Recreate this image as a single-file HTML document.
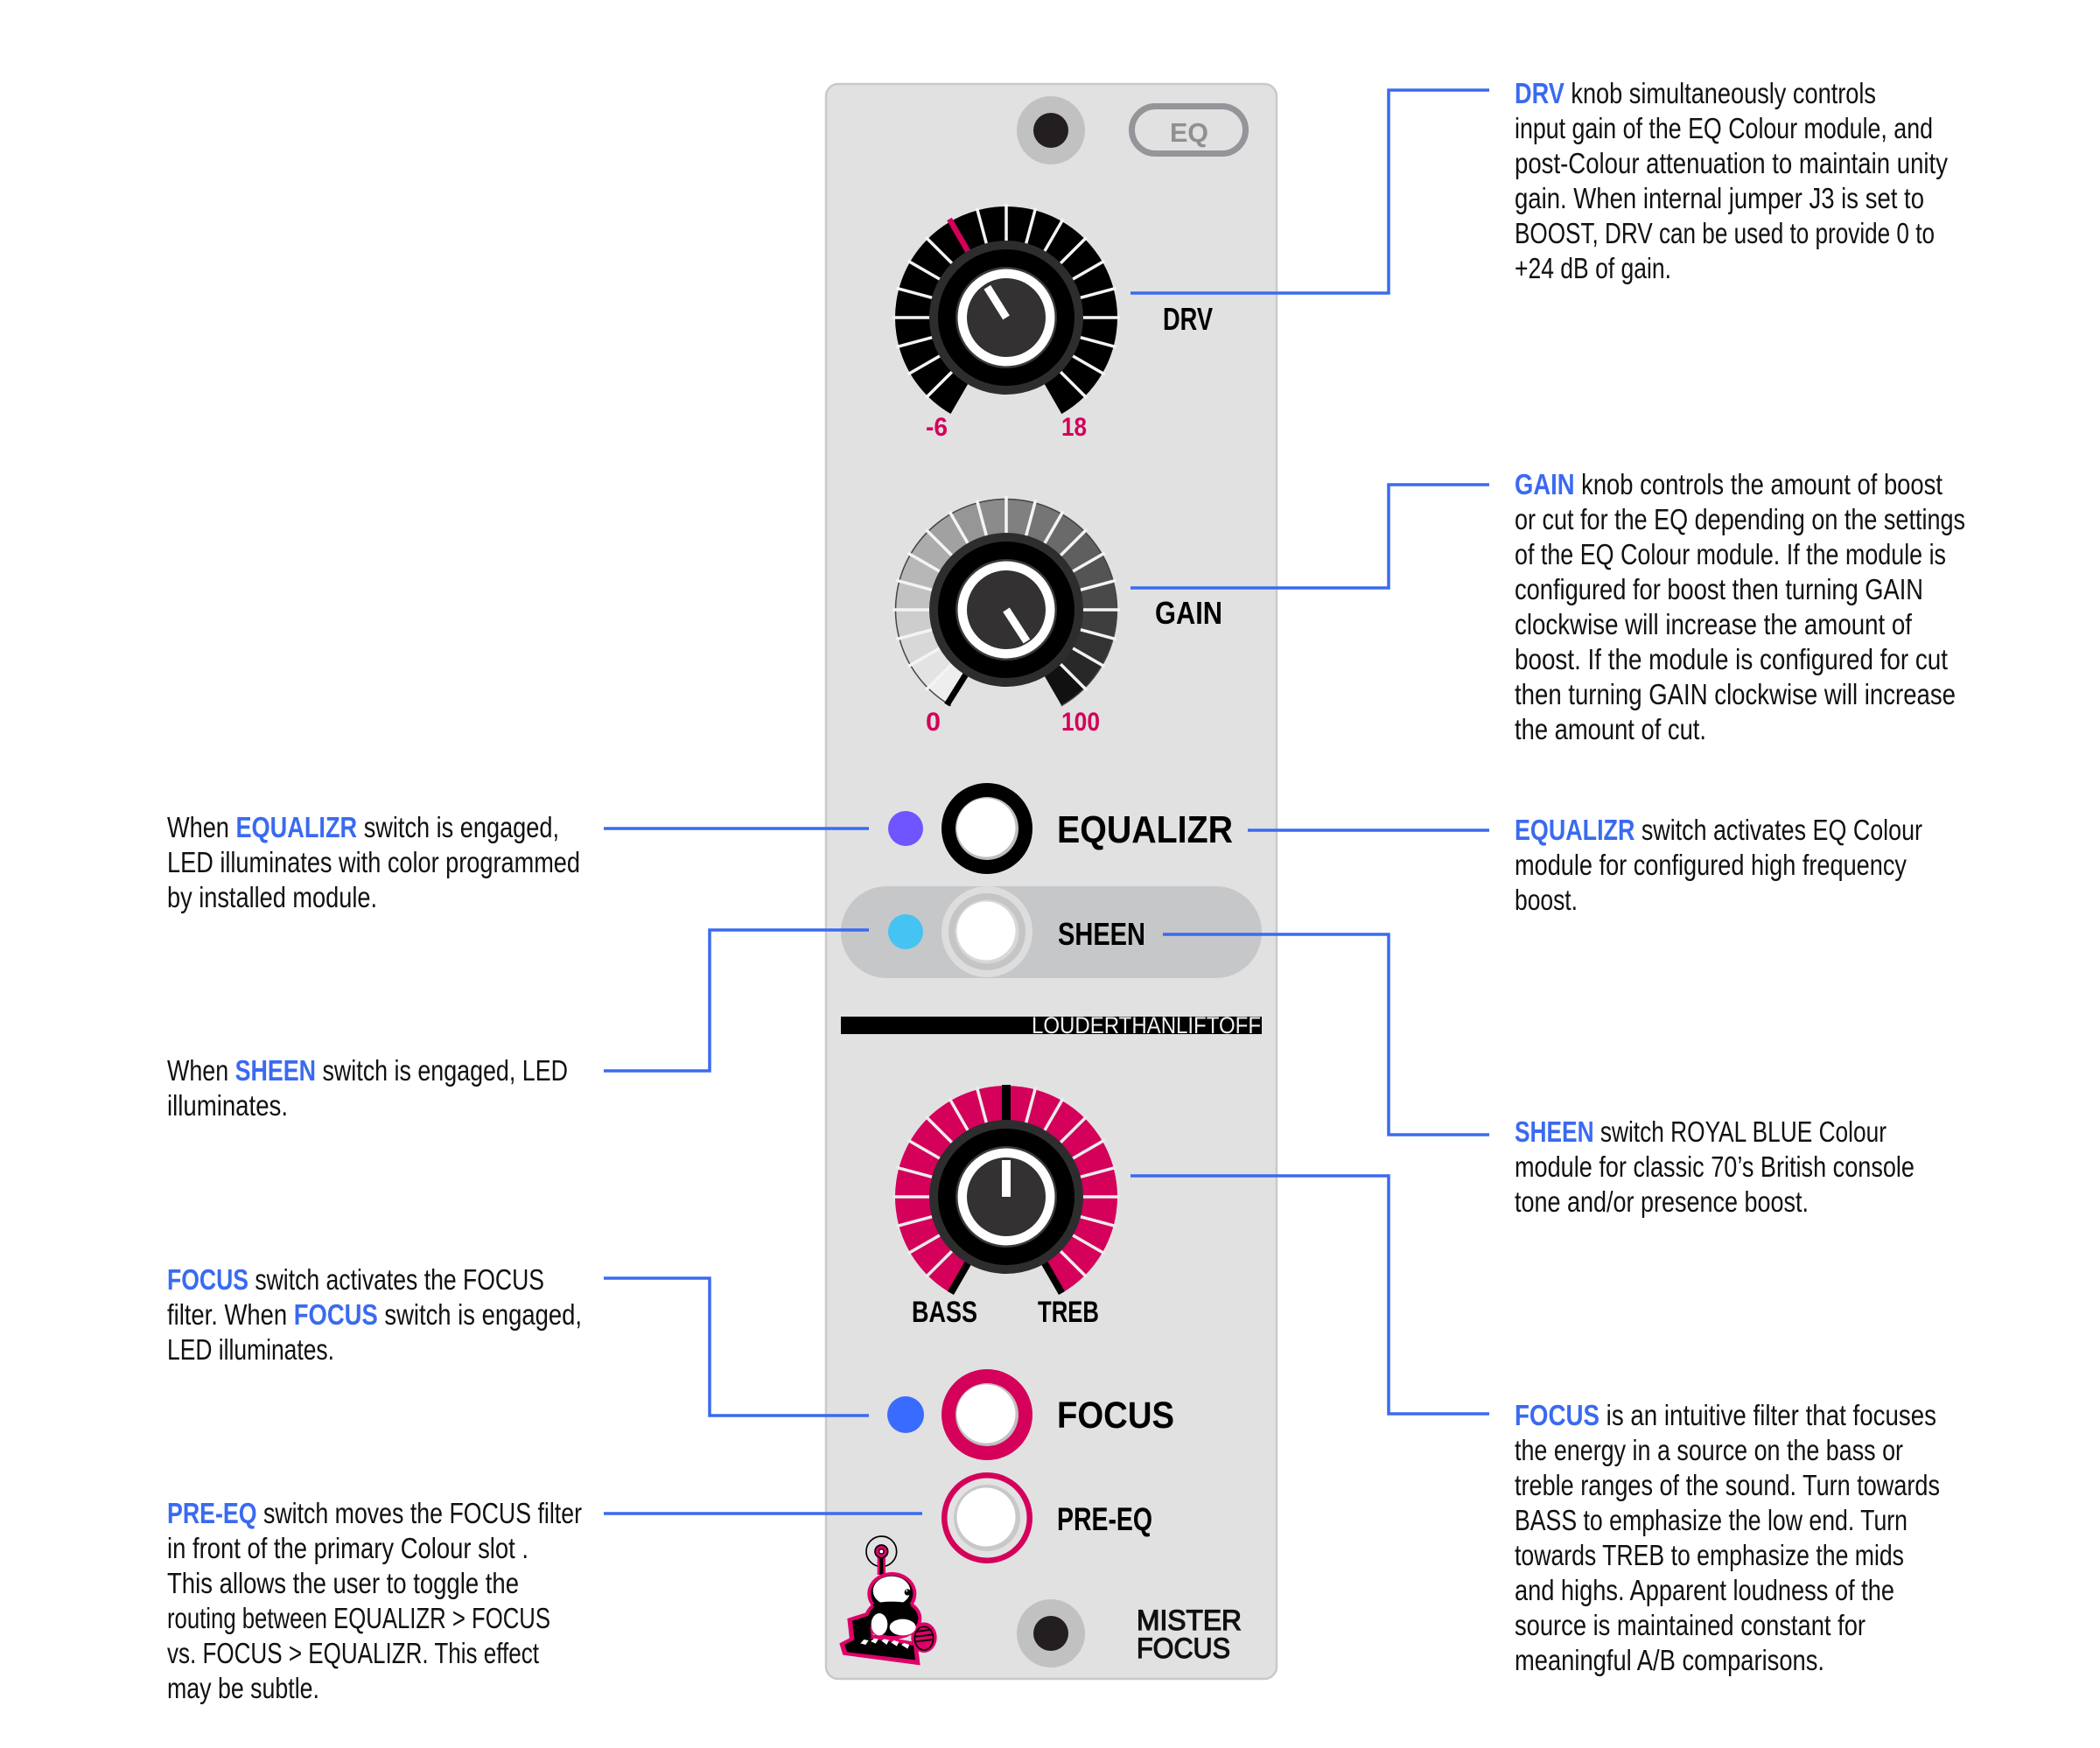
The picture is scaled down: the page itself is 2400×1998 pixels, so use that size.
<!DOCTYPE html>
<html><head><meta charset="utf-8"><style>html,body{margin:0;padding:0;background:#fff}svg{display:block}</style></head>
<body>
<svg width="2400" height="1998" viewBox="0 0 2400 1998" xmlns="http://www.w3.org/2000/svg">
<rect width="2400" height="1998" fill="#fff"/>

<!-- PANEL -->
<rect x="944" y="96" width="515" height="1823" rx="14" fill="#e1e1e1" stroke="#c9c9c9" stroke-width="2.5"/>

<!-- top jack -->
<circle cx="1201" cy="149" r="39" fill="#c1c1c1"/>
<circle cx="1201" cy="149" r="20" fill="#231f20"/>
<!-- EQ badge -->
<rect x="1293.5" y="121.5" width="130" height="54" rx="27" fill="none" stroke="#939598" stroke-width="7"/>
<text x="1337" y="162" font-family="'Liberation Sans',sans-serif" font-weight="bold" font-size="31" fill="#8e9093" textLength="44" lengthAdjust="spacingAndGlyphs">EQ</text>

<!-- DRV KNOB -->
<g transform="translate(1150,363)">
  <circle r="106.5" fill="none" stroke="#000" stroke-width="41" stroke-dasharray="557.6 2000" transform="rotate(120)"/>
  <g stroke="#f4f4f4" stroke-width="3.5">
    <line x1="0" y1="-82" x2="0" y2="-130" transform="rotate(-135)"/>
    <line x1="0" y1="-82" x2="0" y2="-130" transform="rotate(-120)"/>
    <line x1="0" y1="-82" x2="0" y2="-130" transform="rotate(-105)"/>
    <line x1="0" y1="-82" x2="0" y2="-130" transform="rotate(-90)"/>
    <line x1="0" y1="-82" x2="0" y2="-130" transform="rotate(-75)"/>
    <line x1="0" y1="-82" x2="0" y2="-130" transform="rotate(-60)"/>
    <line x1="0" y1="-82" x2="0" y2="-130" transform="rotate(-45)"/>
    <line x1="0" y1="-82" x2="0" y2="-130" transform="rotate(-15)"/>
    <line x1="0" y1="-82" x2="0" y2="-130" transform="rotate(0)"/>
    <line x1="0" y1="-82" x2="0" y2="-130" transform="rotate(15)"/>
    <line x1="0" y1="-82" x2="0" y2="-130" transform="rotate(30)"/>
    <line x1="0" y1="-82" x2="0" y2="-130" transform="rotate(45)"/>
    <line x1="0" y1="-82" x2="0" y2="-130" transform="rotate(60)"/>
    <line x1="0" y1="-82" x2="0" y2="-130" transform="rotate(75)"/>
    <line x1="0" y1="-82" x2="0" y2="-130" transform="rotate(90)"/>
    <line x1="0" y1="-82" x2="0" y2="-130" transform="rotate(105)"/>
    <line x1="0" y1="-82" x2="0" y2="-130" transform="rotate(120)"/>
    <line x1="0" y1="-82" x2="0" y2="-130" transform="rotate(135)"/>
  </g>
  <line x1="0" y1="-82" x2="0" y2="-130" stroke="#d4005a" stroke-width="6.5" transform="rotate(-30)"/>
  <circle r="88" fill="#2e2d2e"/>
  <circle r="78" fill="#000"/>
  <circle r="58" fill="#3a393a"/>
  <circle r="55.5" fill="#fff"/>
  <circle r="45" fill="#333132"/>
  <line x1="0" y1="0" x2="0" y2="-41" stroke="#fff" stroke-width="9" transform="rotate(-32)"/>
</g>
<g font-family="'Liberation Sans Narrow','Liberation Sans',sans-serif" font-weight="bold">
<text x="1058" y="498" font-size="30" fill="#d4005a" textLength="25" lengthAdjust="spacingAndGlyphs">-6</text>
<text x="1213" y="498" font-size="30" fill="#d4005a" textLength="29" lengthAdjust="spacingAndGlyphs">18</text>
<text x="1329" y="377" font-size="36" fill="#000" textLength="57" lengthAdjust="spacingAndGlyphs">DRV</text>
</g>

<!-- GAIN KNOB -->
<g transform="translate(1150,697)">
  <g fill="none" stroke-width="41">
    <circle r="106.5" stroke="#eeeeee" stroke-dasharray="27.88 2000" transform="rotate(120)"/>
    <circle r="106.5" stroke="#e3e3e3" stroke-dasharray="27.88 2000" transform="rotate(135)"/>
    <circle r="106.5" stroke="#d8d8d8" stroke-dasharray="27.88 2000" transform="rotate(150)"/>
    <circle r="106.5" stroke="#cdcdcd" stroke-dasharray="27.88 2000" transform="rotate(165)"/>
    <circle r="106.5" stroke="#c2c2c2" stroke-dasharray="27.88 2000" transform="rotate(180)"/>
    <circle r="106.5" stroke="#b7b7b7" stroke-dasharray="27.88 2000" transform="rotate(195)"/>
    <circle r="106.5" stroke="#acacac" stroke-dasharray="27.88 2000" transform="rotate(210)"/>
    <circle r="106.5" stroke="#a1a1a1" stroke-dasharray="27.88 2000" transform="rotate(225)"/>
    <circle r="106.5" stroke="#969696" stroke-dasharray="27.88 2000" transform="rotate(240)"/>
    <circle r="106.5" stroke="#8b8b8b" stroke-dasharray="27.88 2000" transform="rotate(255)"/>
    <circle r="106.5" stroke="#808080" stroke-dasharray="27.88 2000" transform="rotate(270)"/>
    <circle r="106.5" stroke="#757575" stroke-dasharray="27.88 2000" transform="rotate(285)"/>
    <circle r="106.5" stroke="#6a6a6a" stroke-dasharray="27.88 2000" transform="rotate(300)"/>
    <circle r="106.5" stroke="#5f5f5f" stroke-dasharray="27.88 2000" transform="rotate(315)"/>
    <circle r="106.5" stroke="#545454" stroke-dasharray="27.88 2000" transform="rotate(330)"/>
    <circle r="106.5" stroke="#494949" stroke-dasharray="27.88 2000" transform="rotate(345)"/>
    <circle r="106.5" stroke="#3e3e3e" stroke-dasharray="27.88 2000" transform="rotate(360)"/>
    <circle r="106.5" stroke="#333333" stroke-dasharray="27.88 2000" transform="rotate(375)"/>
    <circle r="106.5" stroke="#282828" stroke-dasharray="27.88 2000" transform="rotate(390)"/>
    <circle r="106.5" stroke="#111111" stroke-dasharray="27.88 2000" transform="rotate(405)"/>
  </g>
  <circle r="126.5" fill="none" stroke="#444" stroke-width="1.5" stroke-dasharray="662.5 2000" transform="rotate(120)"/>
  <g stroke="#f4f4f4" stroke-width="3.5">
    <line x1="0" y1="-82" x2="0" y2="-130" transform="rotate(-135)"/>
    <line x1="0" y1="-82" x2="0" y2="-130" transform="rotate(-120)"/>
    <line x1="0" y1="-82" x2="0" y2="-130" transform="rotate(-105)"/>
    <line x1="0" y1="-82" x2="0" y2="-130" transform="rotate(-90)"/>
    <line x1="0" y1="-82" x2="0" y2="-130" transform="rotate(-75)"/>
    <line x1="0" y1="-82" x2="0" y2="-130" transform="rotate(-60)"/>
    <line x1="0" y1="-82" x2="0" y2="-130" transform="rotate(-45)"/>
    <line x1="0" y1="-82" x2="0" y2="-130" transform="rotate(-30)"/>
    <line x1="0" y1="-82" x2="0" y2="-130" transform="rotate(-15)"/>
    <line x1="0" y1="-82" x2="0" y2="-130" transform="rotate(0)"/>
    <line x1="0" y1="-82" x2="0" y2="-130" transform="rotate(15)"/>
    <line x1="0" y1="-82" x2="0" y2="-130" transform="rotate(30)"/>
    <line x1="0" y1="-82" x2="0" y2="-130" transform="rotate(45)"/>
    <line x1="0" y1="-82" x2="0" y2="-130" transform="rotate(60)"/>
    <line x1="0" y1="-82" x2="0" y2="-130" transform="rotate(75)"/>
    <line x1="0" y1="-82" x2="0" y2="-130" transform="rotate(90)"/>
    <line x1="0" y1="-82" x2="0" y2="-130" transform="rotate(105)"/>
    <line x1="0" y1="-82" x2="0" y2="-130" transform="rotate(120)"/>
    <line x1="0" y1="-82" x2="0" y2="-130" transform="rotate(135)"/>
  </g>
  <line x1="0" y1="-82" x2="0" y2="-128" stroke="#000" stroke-width="7" transform="rotate(-148)"/>
  <circle r="88" fill="#2e2d2e"/>
  <circle r="78" fill="#000"/>
  <circle r="58" fill="#3a393a"/>
  <circle r="55.5" fill="#fff"/>
  <circle r="45" fill="#333132"/>
  <line x1="0" y1="0" x2="0" y2="-43" stroke="#fff" stroke-width="9" transform="rotate(147)"/>
</g>
<g font-family="'Liberation Sans Narrow','Liberation Sans',sans-serif" font-weight="bold">
<text x="1058" y="835" font-size="30" fill="#d4005a" textLength="17" lengthAdjust="spacingAndGlyphs">0</text>
<text x="1213" y="835" font-size="30" fill="#d4005a" textLength="44" lengthAdjust="spacingAndGlyphs">100</text>
<text x="1320" y="713" font-size="36" fill="#000" textLength="77" lengthAdjust="spacingAndGlyphs">GAIN</text>
</g>

<!-- EQUALIZR row -->
<circle cx="1035" cy="947" r="20" fill="#6e55ff"/>
<circle cx="1128" cy="947" r="52" fill="#000"/>
<circle cx="1128" cy="947" r="36" fill="#bdbdbd"/>
<circle cx="1127" cy="946" r="33.5" fill="#fff"/>
<text x="1208" y="963" font-family="'Liberation Sans',sans-serif" font-weight="bold" font-size="44" fill="#000" textLength="201" lengthAdjust="spacingAndGlyphs">EQUALIZR</text>

<!-- SHEEN row -->
<rect x="961" y="1013" width="481" height="105" rx="52.5" fill="#c6c7c9"/>
<circle cx="1035" cy="1065" r="20" fill="#45c3f3"/>
<circle cx="1128" cy="1065" r="52" fill="#dddddd"/>
<circle cx="1128" cy="1065" r="44" fill="#c4c5c7"/>
<circle cx="1128" cy="1065" r="36.5" fill="#d8d8d8"/>
<circle cx="1127" cy="1064" r="33.5" fill="#fff"/>
<text x="1209" y="1080" font-family="'Liberation Sans Narrow','Liberation Sans',sans-serif" font-weight="bold" font-size="36" fill="#000" textLength="100" lengthAdjust="spacingAndGlyphs">SHEEN</text>

<!-- LOUDERTHANLIFTOFF bar -->
<rect x="961" y="1162" width="481" height="20" fill="#000"/>
<text x="1179" y="1181" font-family="'Liberation Sans',sans-serif" font-size="27" fill="#f2f2f2" textLength="262" lengthAdjust="spacingAndGlyphs">LOUDERTHANLIFTOFF</text>

<!-- BASS/TREB KNOB -->
<g transform="translate(1150,1368)">
  <circle r="106.5" fill="none" stroke="#d4005a" stroke-width="41" stroke-dasharray="557.6 2000" transform="rotate(120)"/>
  <g stroke="#ececec" stroke-width="3.5">
    <line x1="0" y1="-82" x2="0" y2="-130" transform="rotate(-135)"/>
    <line x1="0" y1="-82" x2="0" y2="-130" transform="rotate(-120)"/>
    <line x1="0" y1="-82" x2="0" y2="-130" transform="rotate(-105)"/>
    <line x1="0" y1="-82" x2="0" y2="-130" transform="rotate(-90)"/>
    <line x1="0" y1="-82" x2="0" y2="-130" transform="rotate(-75)"/>
    <line x1="0" y1="-82" x2="0" y2="-130" transform="rotate(-60)"/>
    <line x1="0" y1="-82" x2="0" y2="-130" transform="rotate(-45)"/>
    <line x1="0" y1="-82" x2="0" y2="-130" transform="rotate(-30)"/>
    <line x1="0" y1="-82" x2="0" y2="-130" transform="rotate(-15)"/>
    <line x1="0" y1="-82" x2="0" y2="-130" transform="rotate(15)"/>
    <line x1="0" y1="-82" x2="0" y2="-130" transform="rotate(30)"/>
    <line x1="0" y1="-82" x2="0" y2="-130" transform="rotate(45)"/>
    <line x1="0" y1="-82" x2="0" y2="-130" transform="rotate(60)"/>
    <line x1="0" y1="-82" x2="0" y2="-130" transform="rotate(75)"/>
    <line x1="0" y1="-82" x2="0" y2="-130" transform="rotate(90)"/>
    <line x1="0" y1="-82" x2="0" y2="-130" transform="rotate(105)"/>
    <line x1="0" y1="-82" x2="0" y2="-130" transform="rotate(120)"/>
    <line x1="0" y1="-82" x2="0" y2="-130" transform="rotate(135)"/>
  </g>
  <g stroke="#000">
    <line x1="0" y1="-82" x2="0" y2="-128" stroke-width="10" transform="rotate(0)"/>
    <line x1="0" y1="-82" x2="0" y2="-127" stroke-width="8" transform="rotate(-150)"/>
    <line x1="0" y1="-82" x2="0" y2="-127" stroke-width="8" transform="rotate(150)"/>
  </g>
  <circle r="88" fill="#2e2d2e"/>
  <circle r="78" fill="#000"/>
  <circle r="58" fill="#3a393a"/>
  <circle r="55.5" fill="#fff"/>
  <circle r="45" fill="#333132"/>
  <line x1="0" y1="0" x2="0" y2="-42" stroke="#fff" stroke-width="10"/>
</g>
<g font-family="'Liberation Sans Narrow','Liberation Sans',sans-serif" font-weight="bold" font-size="34" fill="#000">
<text x="1042" y="1511" textLength="75" lengthAdjust="spacingAndGlyphs">BASS</text>
<text x="1186" y="1511" textLength="70" lengthAdjust="spacingAndGlyphs">TREB</text>
</g>

<!-- FOCUS row -->
<circle cx="1035" cy="1617" r="21" fill="#3a6bff"/>
<circle cx="1128" cy="1617" r="52" fill="#d4005a"/>
<circle cx="1128" cy="1617" r="36" fill="#c0c0c0"/>
<circle cx="1127" cy="1616" r="33.5" fill="#fff"/>
<text x="1208" y="1632" font-family="'Liberation Sans',sans-serif" font-weight="bold" font-size="43" fill="#000" textLength="134" lengthAdjust="spacingAndGlyphs">FOCUS</text>

<!-- PRE-EQ row -->
<circle cx="1128" cy="1735" r="52" fill="#d4005a"/>
<circle cx="1128" cy="1735" r="45.5" fill="#e2e2e2"/>
<circle cx="1128" cy="1735" r="38" fill="#c8c8c8"/>
<circle cx="1127" cy="1734" r="33.5" fill="#fff"/>
<text x="1208" y="1749" font-family="'Liberation Sans Narrow','Liberation Sans',sans-serif" font-weight="bold" font-size="37" fill="#000" textLength="109" lengthAdjust="spacingAndGlyphs">PRE-EQ</text>

<!-- bottom jack -->
<circle cx="1201" cy="1867" r="39" fill="#c1c1c1"/>
<circle cx="1201" cy="1867" r="20" fill="#231f20"/>

<!-- MISTER FOCUS -->
<g font-family="'Liberation Sans',sans-serif" font-size="32" fill="#111" stroke="#111" stroke-width="1.2">
<text x="1299" y="1863" textLength="120" lengthAdjust="spacingAndGlyphs">MISTER</text>
<text x="1299" y="1895" textLength="107" lengthAdjust="spacingAndGlyphs">FOCUS</text>
</g>

<!-- robot logo -->
<g transform="translate(950,1750) scale(0.3333)">
  <circle cx="172" cy="70" r="52" fill="none" stroke="#000" stroke-width="5"/>
  <rect x="158" y="80" width="28" height="70" fill="#e0006a"/>
  <rect x="166" y="84" width="12" height="66" fill="#000"/>
  <circle cx="172" cy="70" r="22" fill="#e0006a" stroke="#000" stroke-width="5"/>
  <circle cx="172" cy="70" r="8" fill="#fff" stroke="#000" stroke-width="4"/>
  <g fill="#e0006a">
    <ellipse cx="208" cy="215" rx="84" ry="74"/>
    <ellipse cx="212" cy="300" rx="98" ry="72"/>
    <polygon points="55,300 135,275 145,375 65,390"/>
    <polygon points="28,385 100,348 295,382 305,460 40,425"/>
    <ellipse cx="318" cy="365" rx="44" ry="52"/>
  </g>
  <g fill="#000">
    <ellipse cx="208" cy="215" rx="72" ry="62"/>
    <ellipse cx="212" cy="300" rx="86" ry="60"/>
    <polygon points="72,308 130,290 137,365 80,375"/>
    <polygon points="45,390 100,362 282,393 288,442 55,415"/>
  </g>
  <ellipse cx="207" cy="205" rx="64" ry="50" fill="#fff"/>
  <ellipse cx="208" cy="254" rx="66" ry="12" fill="#000"/>
  <circle cx="262" cy="210" r="11" fill="#000"/>
  <circle cx="259" cy="205" r="3" fill="#fff"/>
  <ellipse cx="165" cy="320" rx="28" ry="38" fill="#fff"/>
  <ellipse cx="245" cy="330" rx="45" ry="28" fill="#fff"/>
  <g fill="#fff">
    <polygon points="100,385 112,372 128,375 118,390"/>
    <polygon points="135,378 148,368 162,371 152,386"/>
    <polygon points="172,376 182,370 198,374 190,390"/>
    <polygon points="205,382 215,375 232,380 225,395"/>
    <polygon points="240,390 250,384 268,390 262,404"/>
  </g>
  <ellipse cx="318" cy="368" rx="32" ry="40" fill="#e0006a" stroke="#000" stroke-width="5"/>
  <g stroke="#000" stroke-width="6">
    <line x1="292" y1="345" x2="344" y2="338"/>
    <line x1="288" y1="362" x2="348" y2="355"/>
    <line x1="290" y1="379" x2="348" y2="372"/>
  </g>
</g>

<!-- connectors (drawn on top) -->
<g stroke="#3a6af0" stroke-width="3.5" fill="none">
<polyline points="1292,335 1587,335 1587,103 1702,103"/>
<polyline points="1292,672 1587,672 1587,554 1702,554"/>
<polyline points="1426,949 1702,949"/>
<polyline points="1329,1068 1587,1068 1587,1297 1702,1297"/>
<polyline points="1292,1344 1587,1344 1587,1616 1702,1616"/>
<polyline points="690,947 993,947"/>
<polyline points="690,1224 811,1224 811,1063 993,1063"/>
<polyline points="690,1461 811,1461 811,1618 993,1618"/>
<polyline points="690,1730 1054,1730"/>
</g>

<!-- RIGHT TEXT -->
<g font-family="'Liberation Sans Narrow','Liberation Sans',sans-serif" font-size="33" fill="#111" style="white-space:pre">
<text x="1731" y="118" textLength="413" lengthAdjust="spacingAndGlyphs"><tspan font-weight="bold" fill="#3a6af0">DRV</tspan> knob simultaneously controls</text>
<text x="1731" y="158" textLength="478" lengthAdjust="spacingAndGlyphs">input gain of the EQ Colour module, and</text>
<text x="1731" y="198" textLength="495" lengthAdjust="spacingAndGlyphs">post-Colour attenuation to maintain unity</text>
<text x="1731" y="238" textLength="468" lengthAdjust="spacingAndGlyphs">gain. When internal jumper J3 is set to</text>
<text x="1731" y="278" textLength="480" lengthAdjust="spacingAndGlyphs">BOOST, DRV can be used to provide 0 to</text>
<text x="1731" y="318" textLength="179" lengthAdjust="spacingAndGlyphs">+24 dB of gain.</text>

<text x="1731" y="565" textLength="489" lengthAdjust="spacingAndGlyphs"><tspan font-weight="bold" fill="#3a6af0">GAIN</tspan> knob controls the amount of boost</text>
<text x="1731" y="605" textLength="515" lengthAdjust="spacingAndGlyphs">or cut for the EQ depending on the settings</text>
<text x="1731" y="645" textLength="493" lengthAdjust="spacingAndGlyphs">of the EQ Colour module. If the module is</text>
<text x="1731" y="685" textLength="467" lengthAdjust="spacingAndGlyphs">configured for boost then turning GAIN</text>
<text x="1731" y="725" textLength="454" lengthAdjust="spacingAndGlyphs">clockwise will increase the amount of</text>
<text x="1731" y="765" textLength="495" lengthAdjust="spacingAndGlyphs">boost.  If the module is configured for cut</text>
<text x="1731" y="805" textLength="504" lengthAdjust="spacingAndGlyphs">then turning GAIN clockwise will increase</text>
<text x="1731" y="845" textLength="219" lengthAdjust="spacingAndGlyphs">the amount of cut.</text>

<text x="1731" y="960" textLength="466" lengthAdjust="spacingAndGlyphs"><tspan font-weight="bold" fill="#3a6af0">EQUALIZR</tspan> switch activates EQ Colour</text>
<text x="1731" y="1000" textLength="448" lengthAdjust="spacingAndGlyphs">module for configured high frequency</text>
<text x="1731" y="1040" textLength="72" lengthAdjust="spacingAndGlyphs">boost.</text>

<text x="1731" y="1305" textLength="425" lengthAdjust="spacingAndGlyphs"><tspan font-weight="bold" fill="#3a6af0">SHEEN</tspan> switch ROYAL BLUE Colour</text>
<text x="1731" y="1345" textLength="457" lengthAdjust="spacingAndGlyphs">module for classic 70’s British console</text>
<text x="1731" y="1385" textLength="336" lengthAdjust="spacingAndGlyphs">tone and/or presence boost.</text>

<text x="1731" y="1629" textLength="482" lengthAdjust="spacingAndGlyphs"><tspan font-weight="bold" fill="#3a6af0">FOCUS</tspan> is an intuitive filter that focuses</text>
<text x="1731" y="1669" textLength="444" lengthAdjust="spacingAndGlyphs">the energy in a source on the bass or</text>
<text x="1731" y="1709" textLength="486" lengthAdjust="spacingAndGlyphs">treble ranges of the sound. Turn towards</text>
<text x="1731" y="1749" textLength="449" lengthAdjust="spacingAndGlyphs">BASS to emphasize the low end. Turn</text>
<text x="1731" y="1789" textLength="445" lengthAdjust="spacingAndGlyphs">towards TREB to emphasize the mids</text>
<text x="1731" y="1829" textLength="434" lengthAdjust="spacingAndGlyphs">and highs. Apparent loudness of the</text>
<text x="1731" y="1869" textLength="401" lengthAdjust="spacingAndGlyphs">source is maintained constant for</text>
<text x="1731" y="1909" textLength="354" lengthAdjust="spacingAndGlyphs">meaningful A/B comparisons.</text>
</g>

<!-- LEFT TEXT -->
<g font-family="'Liberation Sans Narrow','Liberation Sans',sans-serif" font-size="33" fill="#111" style="white-space:pre">
<text x="191" y="957" textLength="448" lengthAdjust="spacingAndGlyphs">When <tspan font-weight="bold" fill="#3a6af0">EQUALIZR</tspan> switch is engaged,</text>
<text x="191" y="997" textLength="472" lengthAdjust="spacingAndGlyphs">LED illuminates with color programmed</text>
<text x="191" y="1037" textLength="240" lengthAdjust="spacingAndGlyphs">by installed module.</text>

<text x="191" y="1235" textLength="458" lengthAdjust="spacingAndGlyphs">When <tspan font-weight="bold" fill="#3a6af0">SHEEN</tspan> switch is engaged, LED</text>
<text x="191" y="1275" textLength="138" lengthAdjust="spacingAndGlyphs">illuminates.</text>

<text x="191" y="1474" textLength="431" lengthAdjust="spacingAndGlyphs"><tspan font-weight="bold" fill="#3a6af0">FOCUS</tspan> switch activates the FOCUS</text>
<text x="191" y="1514" textLength="474" lengthAdjust="spacingAndGlyphs">filter. When <tspan font-weight="bold" fill="#3a6af0">FOCUS</tspan> switch is engaged,</text>
<text x="191" y="1554" textLength="191" lengthAdjust="spacingAndGlyphs">LED illuminates.</text>

<text x="191" y="1741" textLength="474" lengthAdjust="spacingAndGlyphs"><tspan font-weight="bold" fill="#3a6af0">PRE-EQ</tspan> switch moves the FOCUS filter</text>
<text x="191" y="1781" textLength="413" lengthAdjust="spacingAndGlyphs">in front of the primary Colour slot .</text>
<text x="191" y="1821" textLength="402" lengthAdjust="spacingAndGlyphs">This allows the user to toggle the</text>
<text x="191" y="1861" textLength="438" lengthAdjust="spacingAndGlyphs">routing between EQUALIZR &gt; FOCUS</text>
<text x="191" y="1901" textLength="425" lengthAdjust="spacingAndGlyphs">vs. FOCUS &gt; EQUALIZR.  This effect</text>
<text x="191" y="1941" textLength="174" lengthAdjust="spacingAndGlyphs">may be subtle.</text>
</g>
</svg>
</body></html>
